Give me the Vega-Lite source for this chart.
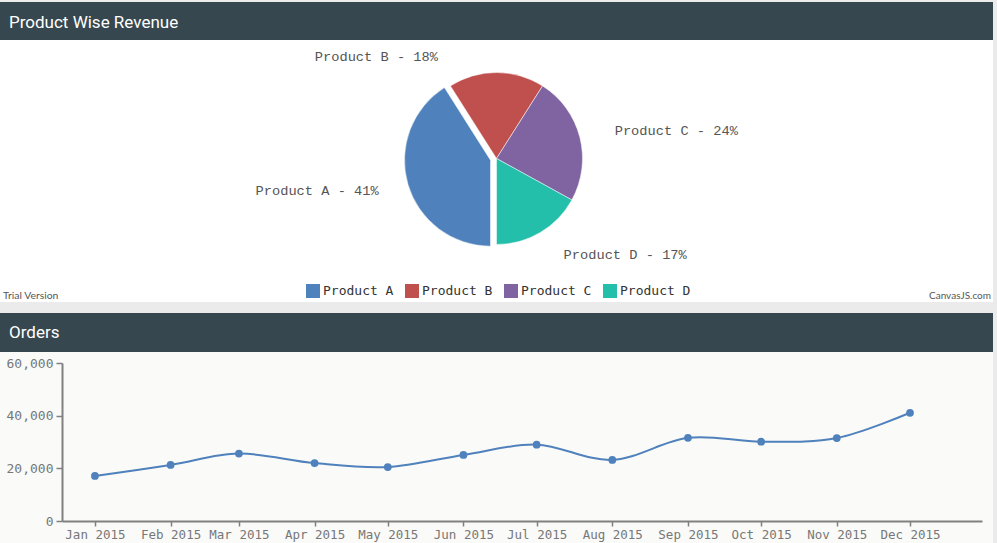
{
  "$schema": "https://vega.github.io/schema/vega-lite/v6.json",
  "background": "#ebebeb",
  "padding": {"left": 0, "top": 2, "right": 4, "bottom": 0},
  "config": {"view": {"stroke": null}},
  "spacing": 11,
  "vconcat": [
    {
      "spacing": 0,
      "bounds": "flush",
      "vconcat": [
        {
          "width": 993,
          "height": 38,
          "view": {"fill": "#37474f", "stroke": null},
          "data": {"values": [{"header": "Product Wise Revenue"}]},
          "mark": {"type": "text", "align": "left", "baseline": "alphabetic", "dx": -487.5, "dy": 7.3, "font": "Roboto", "fontSize": 17, "color": "#ffffff"},
          "encoding": {"text": {"field": "header"}}
        },
        {
          "width": 993,
          "height": 262,
          "view": {"fill": "#ffffff", "stroke": null},
          "data": {"values": [
            {"product": "Product A", "share": 41, "label": "Product A - 41%"},
            {"product": "Product B", "share": 18, "label": "Product B - 18%"},
            {"product": "Product C", "share": 24, "label": "Product C - 24%"},
            {"product": "Product D", "share": 17, "label": "Product D - 17%"}
          ]},
          "layer": [
            {
              "mark": {"type": "arc", "radius": 86, "yOffset": -12.5, "stroke": "#ffffff", "strokeWidth": 0.5},
              "encoding": {
                "theta": {"field": "share", "type": "quantitative", "stack": true, "scale": {"range": [3.14159265, 9.42477796]}},
                "color": {"field": "product", "type": "nominal",
                  "scale": {"domain": ["Product A", "Product B", "Product C", "Product D"], "range": ["#4f81bc", "#c0504e", "#8064a1", "#23bfaa"]},
                  "legend": {"orient": "none", "legendX": 306, "legendY": 282, "direction": "horizontal", "title": null, "symbolType": "square", "symbolSize": 196, "symbolStrokeWidth": 0, "labelFont": "DejaVu Sans Mono", "labelFontSize": 13, "labelColor": "#333333", "columnPadding": 11, "labelOffset": 3, "padding": 0}},
                "opacity": {"condition": {"test": "datum.product === 'Product A'", "value": 0}, "value": 1}
              }
            },
            {
              "mark": {"type": "arc", "radius": 86, "xOffset": -6, "yOffset": -10.8, "stroke": "#ffffff", "strokeWidth": 0.5},
              "encoding": {
                "theta": {"field": "share", "type": "quantitative", "stack": true},
                "color": {"field": "product", "type": "nominal"},
                "opacity": {"condition": {"test": "datum.product === 'Product A'", "value": 1}, "value": 0}
              }
            },
            {
              "mark": {"type": "text", "radius": 122.6, "yOffset": -12.5, "dy": -1.5, "align": "right", "baseline": "middle", "font": "Liberation Mono", "fontSize": 13.7, "color": "#555555"},
              "encoding": {
                "theta": {"field": "share", "type": "quantitative", "stack": true},
                "text": {"condition": {"test": "datum.product === 'Product A'", "field": "label"}, "value": ""}}
            },
            {
              "mark": {"type": "text", "radius": 101.5, "yOffset": -12.5, "dx": -58.5, "align": "right", "baseline": "middle", "font": "Liberation Mono", "fontSize": 13.7, "color": "#555555"},
              "encoding": {
                "theta": {"field": "share", "type": "quantitative", "stack": true},
                "text": {"condition": {"test": "datum.product === 'Product B'", "field": "label"}, "value": ""}}
            },
            {
              "mark": {"type": "text", "radius": 122, "yOffset": -12.5, "dy": 2.5, "align": "left", "baseline": "middle", "font": "Liberation Mono", "fontSize": 13.7, "color": "#555555"},
              "encoding": {
                "theta": {"field": "share", "type": "quantitative", "stack": true},
                "text": {"condition": {"test": "datum.product === 'Product C'", "field": "label"}, "value": ""}}
            },
            {
              "mark": {"type": "text", "radius": 118, "yOffset": -12.5, "dx": 7, "dy": -5, "align": "left", "baseline": "middle", "font": "Liberation Mono", "fontSize": 13.7, "color": "#555555"},
              "encoding": {
                "theta": {"field": "share", "type": "quantitative", "stack": true},
                "text": {"condition": {"test": "datum.product === 'Product D'", "field": "label"}, "value": ""}}
            },
            {
              "data": {"values": [{"credit": "Trial Version"}]},
              "mark": {"type": "text", "align": "left", "baseline": "alphabetic", "dx": -493.5, "dy": 127.5, "font": "Lato", "fontSize": 10.4, "color": "#555555"},
              "encoding": {"text": {"field": "credit"}}
            },
            {
              "data": {"values": [{"credit": "CanvasJS.com"}]},
              "mark": {"type": "text", "align": "right", "baseline": "alphabetic", "dx": 494.5, "dy": 127.5, "font": "Lato", "fontSize": 10, "color": "#555555"},
              "encoding": {"text": {"field": "credit"}}
            }
          ]
        }
      ]
    },
    {
      "spacing": 0,
      "vconcat": [
        {
          "width": 993,
          "height": 39,
          "view": {"fill": "#37474f", "stroke": null},
          "data": {"values": [{"header": "Orders"}]},
          "mark": {"type": "text", "align": "left", "baseline": "alphabetic", "dx": -487.5, "dy": 5.8, "font": "Roboto", "fontSize": 17, "color": "#ffffff"},
          "encoding": {"text": {"field": "header"}}
        },
        {
          "width": 993,
          "height": 191,
          "view": {"fill": "#fafaf8", "stroke": null},
          "data": {"values": [
            {"month": "2015-01-01", "orders": 17100},
            {"month": "2015-02-01", "orders": 21300},
            {"month": "2015-03-01", "orders": 25600},
            {"month": "2015-04-01", "orders": 22000},
            {"month": "2015-05-01", "orders": 20500},
            {"month": "2015-06-01", "orders": 25100},
            {"month": "2015-07-01", "orders": 29000},
            {"month": "2015-08-01", "orders": 23200},
            {"month": "2015-09-01", "orders": 31600},
            {"month": "2015-10-01", "orders": 30100},
            {"month": "2015-11-01", "orders": 31500},
            {"month": "2015-12-01", "orders": 41100}
          ]},
          "encoding": {
            "x": {"field": "month", "type": "temporal",
              "scale": {"type": "utc", "domain": [{"year": 2014, "month": 12, "date": 18, "hours": 12, "utc": true}, {"year": 2015, "month": 12, "date": 30, "hours": 12, "utc": true}], "range": [62, 982]},
              "axis": {"orient": "bottom", "offset": -22, "title": null, "grid": false, "tickCount": {"interval": "month", "step": 1}, "labelExpr": "utcFormat(datum.value, '%b %Y')", "labelFlush": false, "labelOverlap": false, "labelFont": "DejaVu Sans Mono", "labelFontSize": 12.5, "labelColor": "#777777", "labelPadding": 2, "tickSize": 5, "tickWidth": 1.5, "tickColor": "#808080", "domainColor": "#808080", "domainWidth": 2}},
            "y": {"field": "orders", "type": "quantitative",
              "scale": {"domain": [0, 60000], "range": [169, 11], "nice": false, "zero": true},
              "axis": {"orient": "left", "offset": -62, "title": null, "grid": false, "values": [0, 20000, 40000, 60000], "format": ",d", "labelFont": "DejaVu Sans Mono", "labelFontSize": 13, "labelColor": "#777777", "labelPadding": 3, "tickSize": 6, "tickWidth": 1.5, "tickColor": "#808080", "domainColor": "#808080", "domainWidth": 2}}
          },
          "layer": [
            {"mark": {"type": "line", "interpolate": "cardinal", "color": "#4f81bc", "strokeWidth": 2}},
            {"mark": {"type": "point", "filled": true, "size": 60, "color": "#4f81bc", "opacity": 1}}
          ]
        }
      ]
    }
  ]
}
